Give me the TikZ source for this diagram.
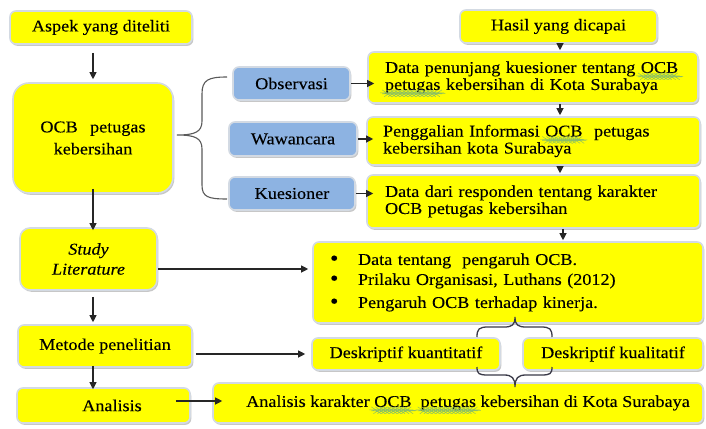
\documentclass[tikz,border=0pt]{standalone}
\usepackage{fontspec}
\setmainfont{Liberation Serif}[FakeStretch=1.1,FakeBold=0.12]
\usetikzlibrary{arrows.meta,shadows,calc,decorations.pathmorphing}
\definecolor{yfill}{HTML}{FFFF00}
\definecolor{bfill}{HTML}{8DB3E2}
\definecolor{edgec}{HTML}{D3DAE3}
\definecolor{bracec}{HTML}{5A5A5A}
\definecolor{braced}{HTML}{3A3A48}
\definecolor{squigc}{HTML}{8CC063}
\newlength\sqwidth
\newcommand\sq[1]{\setbox0=\hbox{#1}\setlength\sqwidth{\wd0}\usebox0\llap{\smash{\tikz[x=1pt,y=1pt,baseline=0pt]\draw[squigc,line width=0.45pt,decorate,decoration={snake,amplitude=0.45pt,segment length=4pt}] (0,-3.4) -- (\sqwidth,-3.4);}}}
\begin{document}
\begin{tikzpicture}[x=1pt,y=-1pt,
  font=\fontsize{16.5}{17}\selectfont,
  box/.style={rounded corners=6pt, fill=yfill, draw=edgec, line width=1.6pt,
    drop shadow={shadow xshift=1.3pt, shadow yshift=-1.8pt, fill=gray!80, opacity=0.55},
    inner sep=0pt, align=center},
  bluebox/.style={box, fill=bfill},
  lbox/.style={box, align=left},
  arr/.style={-{Triangle[length=7pt,width=7pt]}, line width=1.1pt, draw=black!85},
  bracel/.style={draw=bracec, line width=1.1pt},
  braces/.style={draw=braced, line width=1.3pt}]
\fill[white] (0,0) rectangle (706,428);
\useasboundingbox (0,0) rectangle (706,428);

% left column
\node[box, minimum width=182pt, minimum height=33pt] (aspek) at (101,27.5) {Aspek yang diteliti};
\node[box, rounded corners=16pt, minimum width=160pt, minimum height=110pt,
      font=\fontsize{16.5}{22}\selectfont] (ocb) at (93,138) {OCB\hspace{0.75em}petugas\\kebersihan};
\node[box, rounded corners=10pt, minimum width=137pt, minimum height=62pt,
      font=\fontsize{16.5}{20}\selectfont\itshape] (study) at (88.5,259) {Study\\Literature};
\node[box, minimum width=174pt, minimum height=42pt] (met) at (105,346) {Metode penelitian};
\node[box, minimum width=173pt, minimum height=35pt] (ana) at (103.5,405.5) {\hspace{17pt}Analisis};

% methods
\node[bluebox, minimum width=117pt, minimum height=33pt] (obs) at (291.5,83.5) {Observasi};
\node[bluebox, minimum width=128pt, minimum height=34pt] (waw) at (293,139) {Wawancara};
\node[bluebox, minimum width=126pt, minimum height=33pt] (kues) at (292,193.5) {Kuesioner};

% right column
\node[box, minimum width=197pt, minimum height=33pt] (hasil) at (558.5,26.5) {Hasil yang dicapai};
\node[lbox, inner xsep=17pt, text width=296pt, minimum height=51pt] (dp) at (533,77.5)
  {\mbox{Data penunjang kuesioner tentang \sq{OCB}}\\\mbox{\sq{petugas} kebersihan di Kota Surabaya}};
\node[lbox, inner xsep=16pt, text width=301pt, minimum height=48pt] (pg) at (533.5,141)
  {\mbox{Penggalian Informasi \sq{OCB}\hspace{0.7em}petugas}\\\mbox{kebersihan kota Surabaya}};
\node[lbox, inner xsep=18pt, text width=297pt, minimum height=53pt] (dr) at (533.5,201.5)
  {\mbox{Data dari responden tentang karakter}\\\mbox{OCB petugas kebersihan}};
\node[lbox, inner xsep=17pt, text width=356pt, minimum height=81pt,
      font=\fontsize{16.5}{20}\selectfont] (bul) at (508,282.5)
  {\mbox{\makebox[28pt][l]{\raisebox{-0.5pt}{\fontsize{22}{22}\selectfont\textbullet}}Data tentang\ \ pengaruh OCB.}\\
   \mbox{\makebox[28pt][l]{\raisebox{-0.5pt}{\fontsize{22}{22}\selectfont\textbullet}}Prilaku Organisasi, Luthans (2012)}\\[3pt]
   \mbox{\makebox[28pt][l]{\raisebox{-0.5pt}{\fontsize{22}{22}\selectfont\textbullet}}Pengaruh OCB terhadap kinerja.}};
\node[box, minimum width=188pt, minimum height=32pt] (dkn) at (406,354) {Deskriptif kuantitatif};
\node[box, minimum width=180pt, minimum height=32pt] (dkl) at (613,354) {Deskriptif kualitatif};
\node[box, minimum width=490pt, minimum height=40pt] (ak) at (458,403)
  {\hspace{20pt}Analisis karakter \sq{OCB}\ \ \sq{petugas} kebersihan di Kota Surabaya};

% vertical arrows left
\draw[arr] ([yshift=-8pt]aspek.south -| ocb.north) -- ([yshift=3pt]ocb.north);
\draw[arr] ([yshift=5pt]ocb.south) -- ([yshift=-3pt]ocb.south |- study.north);
\draw[arr] ([yshift=-6pt]ocb.south |- study.south) -- ([yshift=2pt]ocb.south |- met.north);
\draw[arr] ([yshift=2pt]ocb.south |- met.south) -- ([yshift=-2pt]ocb.south |- ana.north);

% vertical arrows right
\coordinate (rx) at (560,0);
\coordinate (rx2) at (563,0);
\draw[arr] (rx |- hasil.south) -- ([yshift=1pt]rx |- dp.north);
\draw[arr] (rx |- dp.south) -- ([yshift=1pt]rx |- pg.north);
\draw[arr] (rx |- pg.south) -- ([yshift=1pt]rx |- dr.north);
\draw[arr] (rx2 |- dr.south) -- ([yshift=1pt]rx2 |- bul.north);

% horizontal arrows
\draw[arr] (obs.east) -- ([xshift=7pt]obs.east -| dp.west);
\draw[arr] (waw.east) -- ([xshift=7pt]waw.east -| pg.west);
\draw[arr] (kues.east) -- ([xshift=7pt]kues.east -| dr.west);
\draw[arr] ([yshift=-10pt]study.east) -- ([xshift=-4pt,yshift=-10pt]study.east -| bul.west);
\draw[arr] ([xshift=3pt]met.east |- dkn.west) -- ([xshift=-6pt]dkn.west);
\coordinate (anaout) at ([xshift=-15pt,yshift=4.5pt]ana.east);
\draw[arr] (anaout) -- ([xshift=10pt]anaout -| ak.west);

% large brace
\draw[bracel] (227,77) .. controls (208,77) and (202,80) .. (202,94) -- (202,121)
  .. controls (202,132) and (195,135) .. (177,135)
  .. controls (195,135) and (202,138) .. (202,149) -- (202,185)
  .. controls (202,197) and (208,199) .. (227,199);

% small braces
\draw[braces] (477,337) .. controls (477,329) and (479,327) .. (488,327) -- (504,327)
  .. controls (512,327) and (515,325) .. (515,317)
  .. controls (515,325) and (518,327) .. (526,327) -- (541,327)
  .. controls (550,327) and (552,329) .. (552,337);
\draw[braces] (477,367) .. controls (477,374) and (479,375) .. (488,375) -- (504,375)
  .. controls (512,375) and (515,378) .. (515,387)
  .. controls (515,378) and (518,375) .. (526,375) -- (541,375)
  .. controls (550,375) and (552,374) .. (552,367);
\end{tikzpicture}
\end{document}
